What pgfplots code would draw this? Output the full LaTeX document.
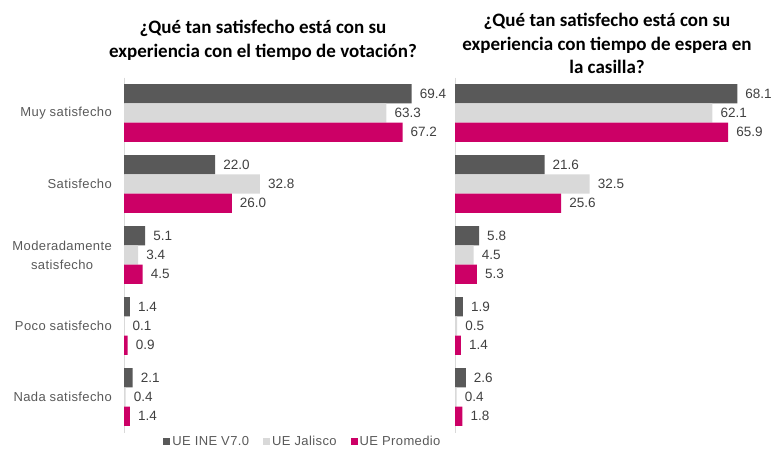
\documentclass[border=0pt]{standalone}
\usepackage{pgfplots}
\usepackage{pgfplotstable}
\pgfplotsset{compat=1.18}
\usepackage{fontspec}
\setmainfont{Liberation Sans}
\newfontfamily\titlefont{Carlito}
\newfontfamily\lblfont[LetterSpace=3]{Liberation Sans}

\definecolor{ineGray}{HTML}{595959}
\definecolor{jalGray}{HTML}{D9D9D9}
\definecolor{promPink}{HTML}{CC0066}
\definecolor{lblGray}{HTML}{595959}
\definecolor{valGray}{HTML}{404040}

% cat: 0 Muy, 1 Satisfecho, 2 Moderadamente, 3 Poco, 4 Nada
\pgfplotstableread{
cat ine  jal  prom
0   69.4 63.3 67.2
1   22.0 32.8 26.0
2   5.1  3.4  4.5
3   1.4  0.1  0.9
4   2.1  0.4  1.4
}\votacion

\pgfplotstableread{
cat ine  jal  prom
0   68.1 62.1 65.9
1   21.6 32.5 25.6
2   5.8  4.5  5.3
3   1.9  0.5  1.4
4   2.6  0.4  1.8
}\espera

\pgfplotsset{
  satis/.style={
    xbar, scale only axis,
    width=315pt, height=355pt,
    xmin=0, xmax=76, ymin=-0.5, ymax=4.5,
    y dir=reverse,
    axis x line=none,
    axis y line*=left,
    y axis line style={draw=jalGray, line width=1pt, -},
    ytick={0,...,4},
    major tick length=0pt,
    bar width=19.3pt,
    clip=false,
    /pgf/number format/assume math mode=true,
    nodes near coords,
    nodes near coords style={font=\fontsize{13.5}{13.5}\selectfont, text=valGray,
      anchor=west, inner sep=0pt, xshift=8pt,
      /pgf/number format/.cd, fixed, fixed zerofill, precision=1},
    yticklabel style={align=center, font=\lblfont\fontsize{13}{19}\selectfont,
      text=lblGray, inner sep=0pt, xshift=-12pt},
  },
}

\begin{document}
\begin{tikzpicture}
\useasboundingbox (0,0) rectangle (771pt,452pt);

\node[align=center, text=black, font=\titlefont\bfseries\fontsize{19}{23.5}\selectfont]
  at (263pt,411.5pt) {¿Qué tan satisfecho está con su\\experiencia con el tiempo de votación?};
\node[align=center, text=black, font=\titlefont\bfseries\fontsize{19}{23.5}\selectfont]
  at (607pt,408.5pt) {¿Qué tan satisfecho está con su\\experiencia con tiempo de espera en\\la casilla?};

\begin{axis}[satis, at={(124pt,19.5pt)}, anchor=south west,
  yticklabels={Muy satisfecho, Satisfecho, {Moderadamente\\satisfecho}, Poco satisfecho, Nada satisfecho},
  legend columns=3,
  legend style={draw=none, fill=none, at={(axis description cs:0.568,-0.026)}, anchor=center,
    font=\lblfont\fontsize{13}{13}\selectfont, text=lblGray,
    /tikz/every even column/.append style={column sep=12pt}},
  legend image code/.code={\fill[#1] (0pt,-3.5pt) rectangle (7pt,3.5pt);},
]
\addplot[fill=ineGray, draw=none, bar shift=19.3pt] table[x=ine, y=cat]{\votacion};
\addlegendentry{UE INE V7.0}
\addplot[fill=jalGray, draw=none, bar shift=0pt] table[x=jal, y=cat]{\votacion};
\addlegendentry{UE Jalisco}
\addplot[fill=promPink, draw=none, bar shift=-19.3pt] table[x=prom, y=cat]{\votacion};
\addlegendentry{UE Promedio}
\end{axis}

\begin{axis}[satis, at={(455pt,19.5pt)}, anchor=south west,
  yticklabels=\empty,
]
\addplot[fill=ineGray, draw=none, bar shift=19.3pt] table[x=ine, y=cat]{\espera};
\addplot[fill=jalGray, draw=none, bar shift=0pt] table[x=jal, y=cat]{\espera};
\addplot[fill=promPink, draw=none, bar shift=-19.3pt] table[x=prom, y=cat]{\espera};
\end{axis}
\end{tikzpicture}
\end{document}
